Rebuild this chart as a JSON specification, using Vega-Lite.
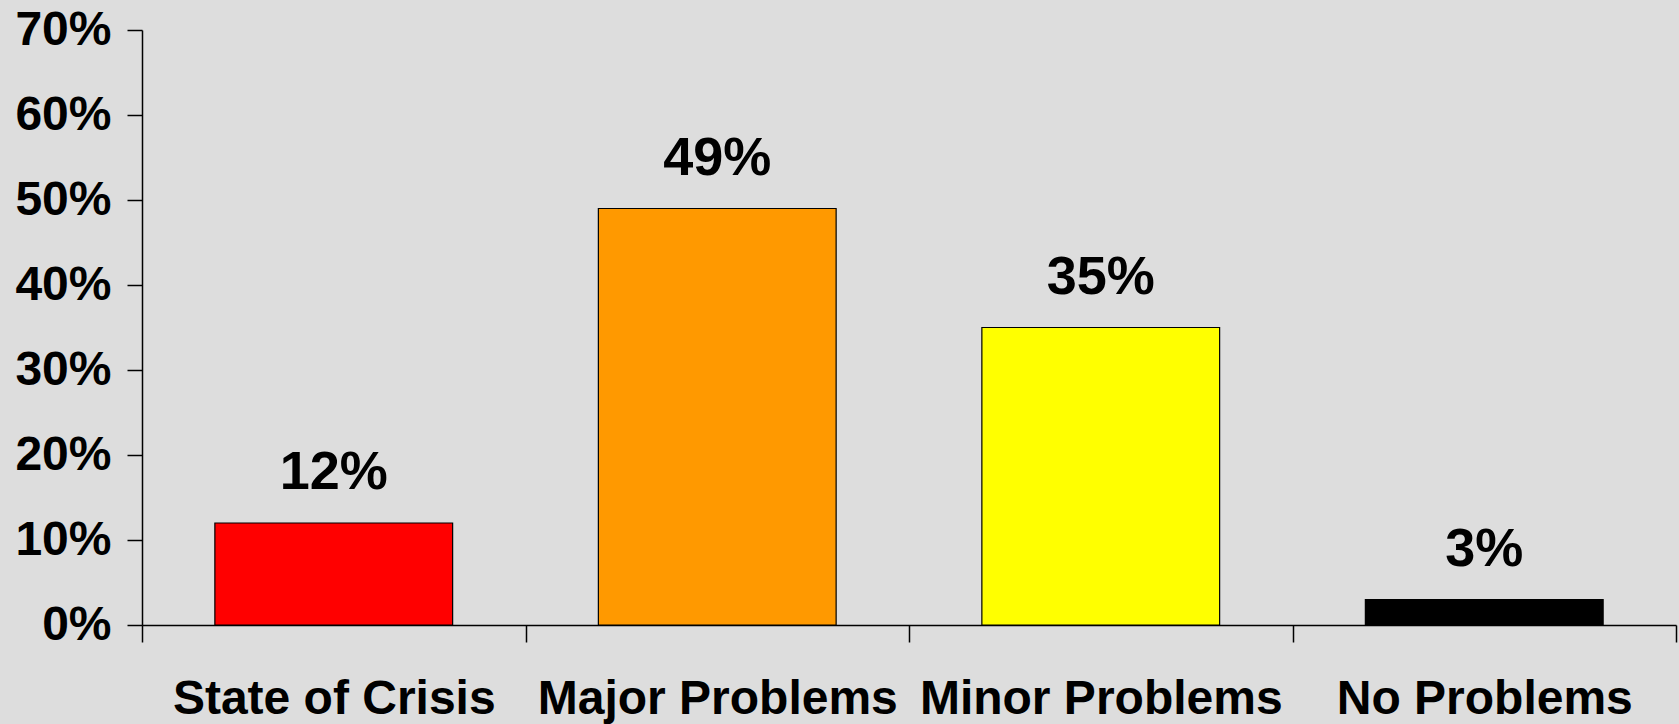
{
  "$schema": "https://vega.github.io/schema/vega-lite/v6.json",
  "autosize": "none",
  "width": 1534,
  "height": 595,
  "padding": {"left": 142, "top": 30, "right": 3, "bottom": 99},
  "background": "#dddddd",
  "config": {
    "view": {"stroke": null, "fill": "#dddddd"},
    "font": "Liberation Sans"
  },
  "data": {
    "values": [
      {"category": "State of Crisis", "value": 0.12, "color": "#ff0000"},
      {"category": "Major Problems", "value": 0.49, "color": "#ff9900"},
      {"category": "Minor Problems", "value": 0.35, "color": "#ffff00"},
      {"category": "No Problems", "value": 0.03, "color": "#000000"}
    ]
  },
  "encoding": {
    "x": {
      "field": "category",
      "type": "nominal",
      "sort": null,
      "scale": {"paddingInner": 0, "paddingOuter": 0},
      "axis": {
        "title": null,
        "labelAngle": 0,
        "labelFont": "Liberation Sans",
        "labelFontWeight": "bold",
        "labelFontSize": 48,
        "labelColor": "#000000",
        "labelPadding": 33,
        "labelBaseline": "top",
        "tickBand": "extent",
        "tickSize": 17,
        "tickColor": "#000000",
        "tickWidth": 1.5,
        "domainColor": "#000000",
        "domainWidth": 1.5,
        "labelLimit": 0
      }
    },
    "y": {
      "field": "value",
      "type": "quantitative",
      "scale": {"domain": [0, 0.7], "nice": false},
      "axis": {
        "title": null,
        "format": ".0%",
        "values": [0, 0.1, 0.2, 0.3, 0.4, 0.5, 0.6, 0.7],
        "grid": false,
        "labelFont": "Liberation Sans",
        "labelFontWeight": "bold",
        "labelFontSize": 48,
        "labelColor": "#000000",
        "labelPadding": 16,
        "tickSize": 15,
        "tickColor": "#000000",
        "tickWidth": 1.5,
        "domainColor": "#000000",
        "domainWidth": 1.5
      }
    }
  },
  "layer": [
    {
      "mark": {"type": "bar", "stroke": "#000000", "strokeWidth": 1.2, "width": {"band": 0.62}},
      "encoding": {
        "color": {"field": "color", "type": "nominal", "scale": null}
      }
    },
    {
      "mark": {
        "type": "text",
        "baseline": "alphabetic",
        "dy": -34,
        "font": "Liberation Sans",
        "fontWeight": "bold",
        "fontSize": 54,
        "color": "#000000"
      },
      "encoding": {
        "text": {"field": "value", "type": "quantitative", "format": ".0%"}
      }
    }
  ]
}
